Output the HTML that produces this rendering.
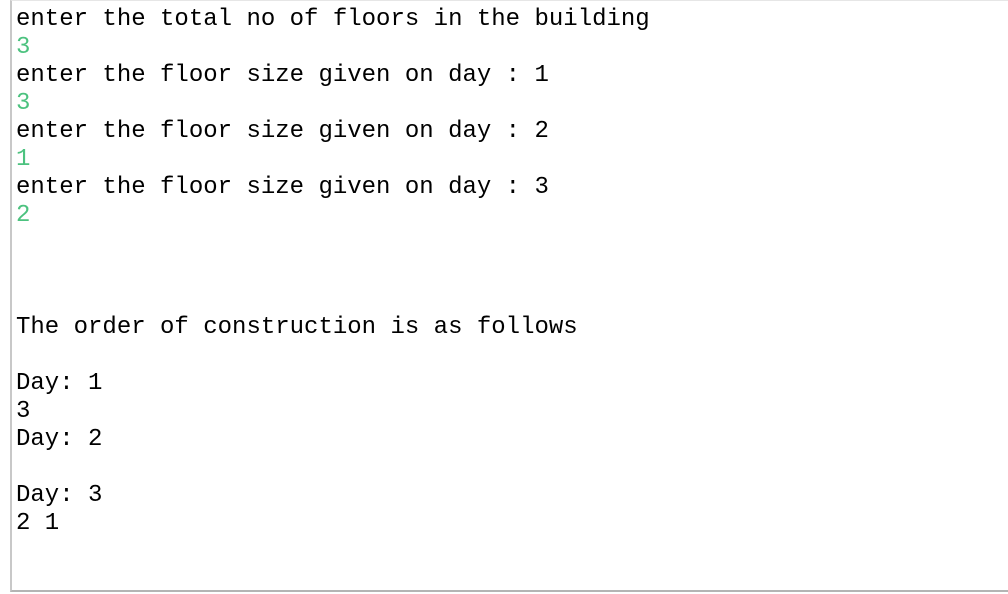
<!DOCTYPE html>
<html><head><style>
html,body{margin:0;padding:0;background:#fff;width:1008px;height:594px;overflow:hidden}
.box{position:absolute;left:10px;top:0;width:996px;height:589px;border-left:2px solid #c8c8c8;border-bottom:2px solid #b4b4b4;border-top:1px solid #e6e6e6}
pre{position:absolute;left:16px;top:6px;margin:0;font-family:"Liberation Mono",monospace;font-size:24px;line-height:28px;color:#000}
.g{color:#4cc27f}
</style></head><body>
<div class="box"></div>
<pre>enter the total no of floors in the building
<span class="g">3</span>
enter the floor size given on day : 1
<span class="g">3</span>
enter the floor size given on day : 2
<span class="g">1</span>
enter the floor size given on day : 3
<span class="g">2</span>



The order of construction is as follows

Day: 1
3
Day: 2

Day: 3
2 1</pre>
</body></html>
